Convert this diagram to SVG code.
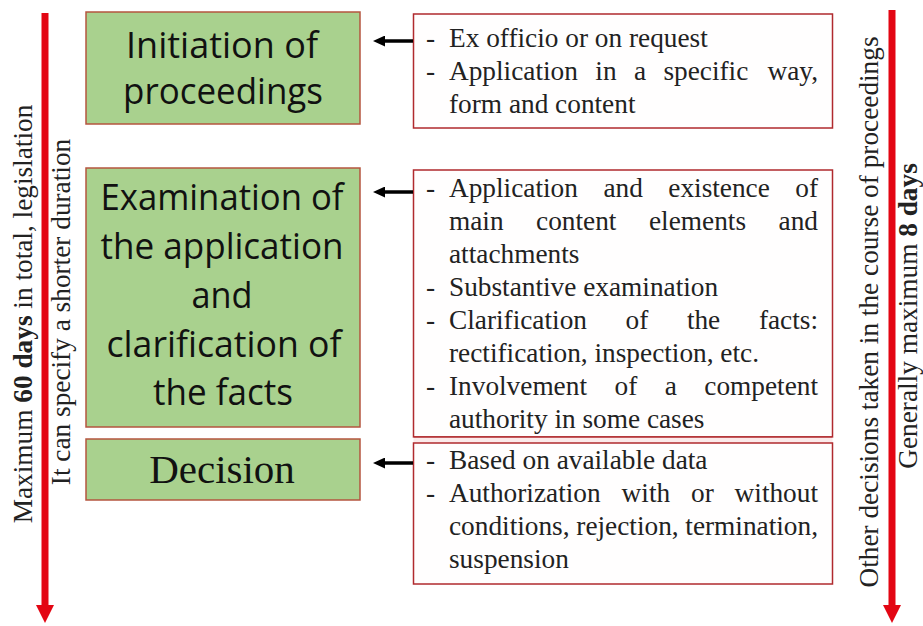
<svg xmlns="http://www.w3.org/2000/svg" width="923" height="626" viewBox="0 0 923 626">
<style>
.stage{fill:#a9d18e;stroke:#b5553f;stroke-width:1.5}
.stxt{font-family:"Open Sans","Noto Sans",sans-serif;font-size:36px;fill:#111;text-anchor:middle}
.dtxt{font-family:"Liberation Serif","Times New Roman",serif;font-size:41px;fill:#111;text-anchor:middle}
.note{fill:#fffefe;stroke:#b02a2e;stroke-width:1.5}
.body{font-family:"Liberation Serif","Times New Roman",serif;font-size:27.3px;fill:#222}
.end{text-anchor:end}
.side{font-family:"Liberation Serif","Times New Roman",serif;font-size:27.3px;fill:#222;text-anchor:middle}
.red{stroke:#e30613;stroke-width:7;fill:none}
.blk{stroke:#000;stroke-width:3.5;fill:none}
</style>
<defs>
<marker id="redHead" markerUnits="userSpaceOnUse" markerWidth="18" markerHeight="18" refX="0" refY="9" orient="auto" viewBox="0 0 18 18"><path d="M0,0 L18,9 L0,18 z" fill="#e30613"/></marker>
<marker id="blkHead" markerUnits="userSpaceOnUse" markerWidth="12" markerHeight="11" refX="0" refY="5.5" orient="auto" viewBox="0 0 12 11"><path d="M0,0 L12,5.5 L0,11 z" fill="#000"/></marker>
</defs>
<rect width="923" height="626" fill="#fff"/>

<g id="timeline-left">
<line class="red" x1="45" y1="13" x2="45" y2="605" marker-end="url(#redHead)"/>
<text class="side" transform="translate(32,314) rotate(-90)">Maximum <tspan font-weight="bold">60 days</tspan> in total, legislation</text>
<text class="side" transform="translate(70,312) rotate(-90)">It can specify a shorter duration</text>
</g>

<g id="timeline-right">
<line class="red" x1="892" y1="10" x2="892" y2="605" marker-end="url(#redHead)"/>
<text class="side" transform="translate(878,312) rotate(-90)">Other decisions taken in the course of proceedings</text>
<text class="side" transform="translate(917,316) rotate(-90)">Generally maximum <tspan font-weight="bold">8 days</tspan></text>
</g>

<g id="node-initiation">
<rect class="stage" x="86" y="12" width="274" height="112"/>
<text class="stxt" x="222" y="58" textLength="192" lengthAdjust="spacingAndGlyphs">Initiation of</text>
<text class="stxt" x="223" y="104" textLength="200" lengthAdjust="spacingAndGlyphs">proceedings</text>
</g>

<g id="node-examination">
<rect class="stage" x="86" y="168" width="274" height="259"/>
<text class="stxt" x="222" y="210" textLength="243" lengthAdjust="spacingAndGlyphs">Examination of</text>
<text class="stxt" x="222" y="259" textLength="243" lengthAdjust="spacingAndGlyphs">the application</text>
<text class="stxt" x="222" y="308" textLength="61" lengthAdjust="spacingAndGlyphs">and</text>
<text class="stxt" x="224" y="357" textLength="235" lengthAdjust="spacingAndGlyphs">clarification of</text>
<text class="stxt" x="223" y="405" textLength="140" lengthAdjust="spacingAndGlyphs">the facts</text>
</g>

<g id="node-decision">
<rect class="stage" x="86" y="439" width="274" height="61"/>
<text class="dtxt" x="222" y="483">Decision</text>
</g>

<g id="note-initiation">
<rect class="note" x="413.5" y="14" width="419" height="114"/>
<text class="body" x="426" y="47">-</text>
<text class="body" x="449" y="47">Ex officio or on request</text>
<text class="body" x="426" y="80">-</text>
<text class="body" y="80"><tspan x="449">Application</tspan><tspan x="595.3">in</tspan><tspan x="633.9">a</tspan><tspan x="663.4">specific</tspan></text>
<text class="body end" x="818" y="80">way,</text>
<text class="body" x="449" y="113">form and content</text>
</g>

<g id="note-examination">
<rect class="note" x="413.5" y="170" width="419" height="267"/>
<text class="body" x="426" y="197">-</text>
<text class="body" y="197"><tspan x="449">Application</tspan><tspan x="603.4">and</tspan><tspan x="668.3">existence</tspan></text>
<text class="body end" x="818" y="197">of</text>
<text class="body" y="230"><tspan x="449">main</tspan><tspan x="536.1">content</tspan><tspan x="649">elements</tspan></text>
<text class="body end" x="818" y="230">and</text>
<text class="body" x="449" y="263">attachments</text>
<text class="body" x="426" y="296">-</text>
<text class="body" x="449" y="296">Substantive examination</text>
<text class="body" x="426" y="329">-</text>
<text class="body" y="329"><tspan x="449">Clarification</tspan><tspan x="625.6">of</tspan><tspan x="686.9">the</tspan></text>
<text class="body end" x="818" y="329">facts:</text>
<text class="body" x="449" y="362">rectification, inspection, etc.</text>
<text class="body" x="426" y="395">-</text>
<text class="body" y="395"><tspan x="449">Involvement</tspan><tspan x="614.5">of</tspan><tspan x="664.7">a</tspan></text>
<text class="body end" x="818" y="395">competent</text>
<text class="body" x="449" y="428">authority in some cases</text>
</g>

<g id="note-decision">
<rect x="413.5" y="437" width="419" height="6" fill="#fbeaea"/>
<rect class="note" x="413.5" y="443" width="419" height="141"/>
<line x1="413.5" y1="437" x2="832.5" y2="437" stroke="#b02a2e" stroke-width="1.5"/>
<text class="body" x="426" y="469">-</text>
<text class="body" x="449" y="469">Based on available data</text>
<text class="body" x="426" y="502">-</text>
<text class="body" y="502"><tspan x="449">Authorization</tspan><tspan x="621.6">with</tspan><tspan x="691">or</tspan></text>
<text class="body end" x="818" y="502">without</text>
<text class="body" y="535"><tspan x="449">conditions,</tspan><tspan x="576.3">rejection,</tspan></text>
<text class="body end" x="818" y="535">termination,</text>
<text class="body" x="449" y="568">suspension</text>
</g>

<g id="connectors">
<line class="blk" x1="413" y1="41" x2="385" y2="41" marker-end="url(#blkHead)"/>
<line class="blk" x1="413" y1="192" x2="385" y2="192" marker-end="url(#blkHead)"/>
<line class="blk" x1="413" y1="463" x2="385" y2="463" marker-end="url(#blkHead)"/>
</g>
</svg>
